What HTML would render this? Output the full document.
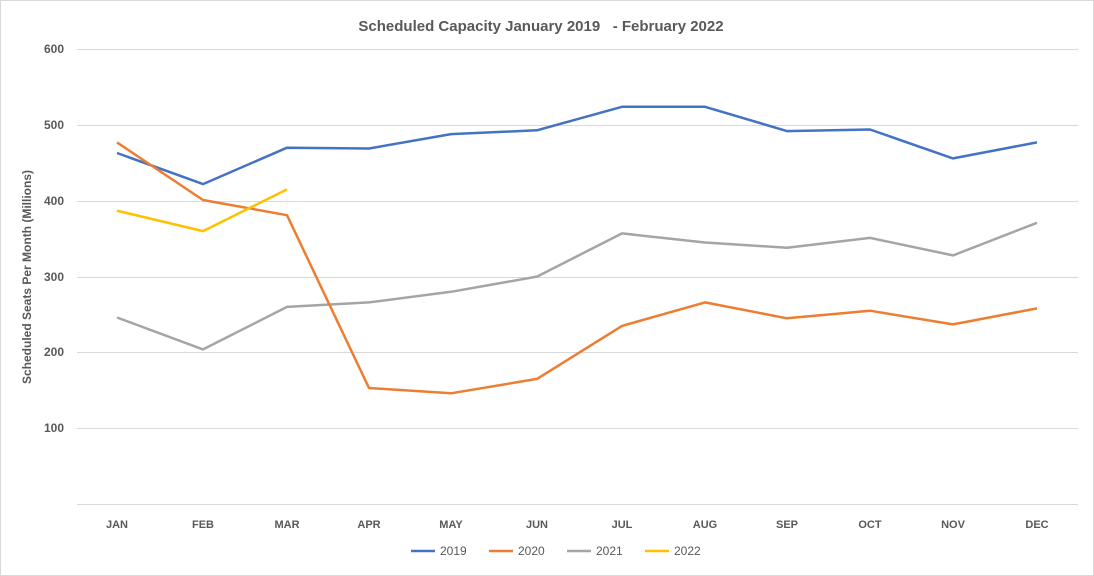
<!DOCTYPE html>
<html><head><meta charset="utf-8"><style>
html,body{margin:0;padding:0;background:#fff;}
svg{display:block;font-family:"Liberation Sans",sans-serif;}
</style></head><body>
<svg width="1094" height="576" viewBox="0 0 1094 576">
<rect x="0.5" y="0.5" width="1093" height="575" fill="#fff" stroke="#d9d9d9"/>
<text x="541" y="31" text-anchor="middle" font-size="15" font-weight="bold" fill="#595959">Scheduled Capacity January 2019 &#160;&#160;- February 2022</text>
<g stroke="#d9d9d9" stroke-width="1">
<line x1="77" x2="1078" y1="49.5" y2="49.5"/>
<line x1="77" x2="1078" y1="125.5" y2="125.5"/>
<line x1="77" x2="1078" y1="201.5" y2="201.5"/>
<line x1="77" x2="1078" y1="277.5" y2="277.5"/>
<line x1="77" x2="1078" y1="352.5" y2="352.5"/>
<line x1="77" x2="1078" y1="428.5" y2="428.5"/>
<line x1="77" x2="1078" y1="504.5" y2="504.5"/>
</g>
<g font-size="12" font-weight="bold" fill="#595959" text-anchor="end">
<text x="64" y="53">600</text><text x="64" y="129">500</text><text x="64" y="205">400</text>
<text x="64" y="281">300</text><text x="64" y="356">200</text><text x="64" y="432">100</text>
</g>
<text transform="translate(31,277) rotate(-90)" text-anchor="middle" font-size="12" font-weight="bold" fill="#595959">Scheduled Seats Per Month (Millions)</text>
<g font-size="11" font-weight="bold" fill="#595959" text-anchor="middle">
<text x="117" y="528">JAN</text><text x="203" y="528">FEB</text><text x="287" y="528">MAR</text>
<text x="369" y="528">APR</text><text x="451" y="528">MAY</text><text x="537" y="528">JUN</text>
<text x="622" y="528">JUL</text><text x="705" y="528">AUG</text><text x="787" y="528">SEP</text>
<text x="870" y="528">OCT</text><text x="953" y="528">NOV</text><text x="1037" y="528">DEC</text>
</g>
<g fill="none" stroke-width="2.5" stroke-linejoin="round">
<polyline stroke="#a5a5a5" points="117,317.5 203,349.4 287,306.9 369,302.4 451,291.8 537,276.6 622,233.4 705,242.5 787,247.8 870,237.9 953,255.4 1037,222.8"/>
<polyline stroke="#4472c4" points="117,153.0 203,184.1 287,147.7 369,148.5 451,134.1 537,130.3 622,106.8 705,106.8 787,131.1 870,129.5 953,158.4 1037,142.4"/>
<polyline stroke="#ed7d31" points="117,142.4 203,200.0 287,215.2 369,388.0 451,393.3 537,378.9 622,325.9 705,302.4 787,318.3 870,310.7 953,324.4 1037,308.4"/>
<polyline stroke="#ffc000" points="117,210.7 203,231.1 287,189.4"/>
</g>
<g font-size="12" fill="#595959">
<line x1="411" x2="435" y1="551" y2="551" stroke="#4472c4" stroke-width="2.5"/><text x="440" y="555">2019</text>
<line x1="489" x2="513" y1="551" y2="551" stroke="#ed7d31" stroke-width="2.5"/><text x="518" y="555">2020</text>
<line x1="567" x2="591" y1="551" y2="551" stroke="#a5a5a5" stroke-width="2.5"/><text x="596" y="555">2021</text>
<line x1="645" x2="669" y1="551" y2="551" stroke="#ffc000" stroke-width="2.5"/><text x="674" y="555">2022</text>
</g>
</svg>
</body></html>
